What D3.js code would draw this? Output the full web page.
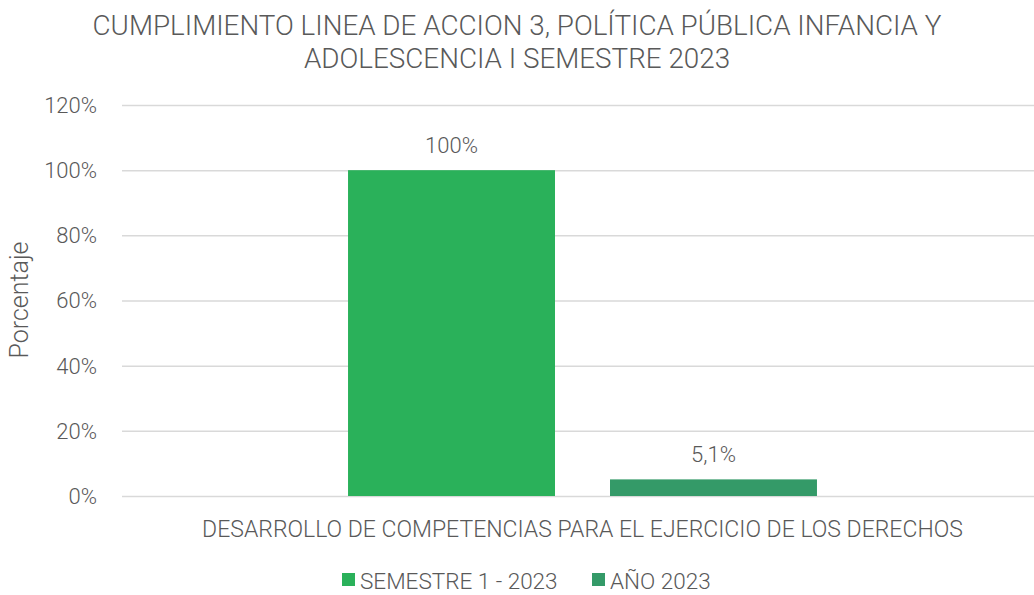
<!DOCTYPE html>
<html>
<head>
	<script type="text/javascript" src="https://cdn.jsdelivr.net/npm/d3@7"></script>
	<style type="text/css">
		body { margin: 0; background: #fff; }
		text { font-family: Roboto, "Liberation Sans", sans-serif; font-weight: 300; fill: #595959; }
		.grid line { stroke: #d9d9d9; stroke-width: 1.5px; }
		.grid .domain { display: none; }
	</style>
</head>
<body>
<script type="text/javascript">

var width = 1034,
	height = 595;

var titleLines = ["CUMPLIMIENTO LINEA DE ACCION 3, POLÍTICA PÚBLICA INFANCIA Y", "ADOLESCENCIA I SEMESTRE 2023"];
var categories = ["DESARROLLO DE COMPETENCIAS PARA EL EJERCICIO DE LOS DERECHOS"];
var seriesNames = ["SEMESTRE 1 - 2023", "AÑO 2023"];
var seriesColors = ["#2ab15a", "#349a68"];
var seriesValues = [[100], [5.1]];
var valueLabels = [["100%"], ["5,1%"]];
var yTicks = [0, 20, 40, 60, 80, 100, 120];

var margin = { top: 105, right: 0, bottom: 99, left: 122 };

var svg = d3.select("body").append("svg")
	.attr("width", width)
	.attr("height", height);

var y = d3.scaleLinear()
	.domain([0, 120])
	.range([height - margin.bottom, margin.top]);

var x0 = d3.scaleBand()
	.domain(categories)
	.range([margin.left, 1043])
	.paddingOuter(0.482)
	.paddingInner(0);

var x1 = d3.scaleBand()
	.domain(seriesNames)
	.range([0, x0.bandwidth()])
	.paddingInner(0.21)
	.paddingOuter(0);

// gridlines
svg.append("g")
	.attr("class", "grid")
	.attr("transform", "translate(" + margin.left + ",0)")
	.call(d3.axisLeft(y).tickValues(yTicks).tickSize(-(width - margin.left)).tickFormat(""));

// tick labels
svg.append("g").selectAll("text")
	.data(yTicks)
  .enter().append("text")
	.attr("x", 97)
	.attr("y", function(d) { return y(d); })
	.attr("dy", "0.36em")
	.attr("text-anchor", "end")
	.style("font-size", "22px")
	.text(function(d) { return d + "%"; });

// bars
var groups = svg.append("g").selectAll("g")
	.data(categories)
  .enter().append("g")
	.attr("transform", function(d) { return "translate(" + x0(d) + ",0)"; });

seriesNames.forEach(function(s, i) {
	groups.append("rect")
		.attr("x", x1(s))
		.attr("y", function(d, j) { return y(seriesValues[i][j]); })
		.attr("width", x1.bandwidth())
		.attr("height", function(d, j) { return y(0) - y(seriesValues[i][j]); })
		.attr("fill", seriesColors[i]);
	groups.append("text")
		.attr("x", x1(s) + x1.bandwidth() / 2)
		.attr("y", function(d, j) { return y(seriesValues[i][j]) - 17; })
		.attr("text-anchor", "middle")
		.style("font-size", "22px")
		.text(function(d, j) { return valueLabels[i][j]; });
});

// category label
svg.append("g").selectAll("text")
	.data(categories)
  .enter().append("text")
	.attr("x", function(d) { return x0(d) + x0.bandwidth() / 2; })
	.attr("y", 537)
	.attr("text-anchor", "middle")
	.style("font-size", "23px")
	.text(function(d) { return d; });

// title
svg.append("g").selectAll("text")
	.data(titleLines)
  .enter().append("text")
	.attr("x", 517)
	.attr("y", function(d, i) { return 35 + i * 33; })
	.attr("text-anchor", "middle")
	.style("font-size", "27.8px")
	.text(function(d) { return d; });

// y axis title
svg.append("text")
	.attr("transform", "translate(28,300) rotate(-90)")
	.attr("text-anchor", "middle")
	.style("font-size", "25px")
	.text("Porcentaje");

// legend
var legend = svg.append("g").selectAll("g")
	.data(seriesNames)
  .enter().append("g")
	.attr("transform", function(d, i) { return "translate(" + (342 + i * 250) + ",573)"; });

legend.append("rect")
	.attr("width", 13)
	.attr("height", 13)
	.attr("fill", function(d, i) { return seriesColors[i]; });

legend.append("text")
	.attr("x", 18)
	.attr("y", 16)
	.style("font-size", "22.5px")
	.text(function(d) { return d; });

</script>
</body>
</html>
